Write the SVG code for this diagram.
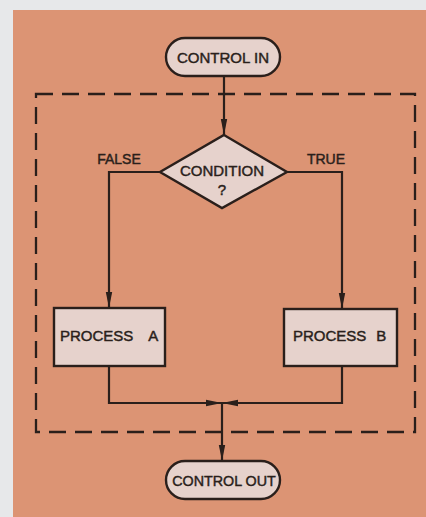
<svg xmlns="http://www.w3.org/2000/svg" width="426" height="517" viewBox="0 0 426 517">
<style>
.bg{fill:#e7e8ea}
.panel{fill:#dc9474}
.node{fill:#e6d2cc;stroke:#2a1f1b;stroke-width:2.4}
.t{font-family:"Liberation Sans",Arial,sans-serif;font-size:15px;fill:#2a1f1b;stroke:#2a1f1b;stroke-width:0.45;text-anchor:middle}
.lbl{font-family:"Liberation Sans",Arial,sans-serif;font-size:14px;fill:#2a1f1b;stroke:#2a1f1b;stroke-width:0.45;text-anchor:middle}
.wire{fill:none;stroke:#2a1f1b;stroke-width:2.2}
.dash{fill:none;stroke:#2a1f1b;stroke-width:2.3;stroke-dasharray:17 9}
</style>
<defs>
<marker id="ah" viewBox="0 0 16 8" refX="16" refY="4" markerWidth="16" markerHeight="8" markerUnits="userSpaceOnUse" orient="auto">
<path d="M0,0.8 L16,4 L0,7.2 Z" fill="#2a1f1b"/>
</marker>
</defs>
<rect class="bg" x="0" y="0" width="426" height="517"/>
<rect class="panel" x="13" y="10" width="413" height="507"/>
<rect id="boundary" class="dash" x="36" y="94" width="379" height="338"/>
<g id="connectors">
<path class="wire" d="M224,76 V135" marker-end="url(#ah)"/>
<path class="wire" d="M160,172 H109 V308" marker-end="url(#ah)"/>
<path class="wire" d="M287,172 H342 V309" marker-end="url(#ah)"/>
<path class="wire" d="M109,366 V403 H222" marker-end="url(#ah)"/>
<path class="wire" d="M342,366 V403 H222" marker-end="url(#ah)"/>
<path class="wire" d="M222,403 V461" marker-end="url(#ah)"/>
</g>
<g id="control-in">
<rect class="node" x="166" y="38" width="114" height="38" rx="19"/>
<text class="t" x="223" y="63">CONTROL IN</text>
</g>
<g id="condition">
<polygon class="node" points="224,135 287,172 222,208 160,172"/>
<text class="t" x="222" y="176">CONDITION</text>
<text class="t" x="222" y="195">?</text>
</g>
<g id="false-label"><text class="lbl" x="119" y="164">FALSE</text></g>
<g id="true-label"><text class="lbl" x="326" y="164">TRUE</text></g>
<g id="process-a">
<rect class="node" x="54" y="308" width="111" height="58"/>
<text class="t" x="60" y="341" style="text-anchor:start">PROCESS<tspan dx="15">A</tspan></text>
</g>
<g id="process-b">
<rect class="node" x="284" y="309" width="113" height="57"/>
<text class="t" x="293" y="341" style="text-anchor:start">PROCESS<tspan dx="10">B</tspan></text>
</g>
<g id="control-out">
<rect class="node" x="166" y="461" width="114" height="38" rx="19"/>
<text class="t" x="224" y="485.5" style="font-size:14.3px">CONTROL OUT</text>
</g>
</svg>
